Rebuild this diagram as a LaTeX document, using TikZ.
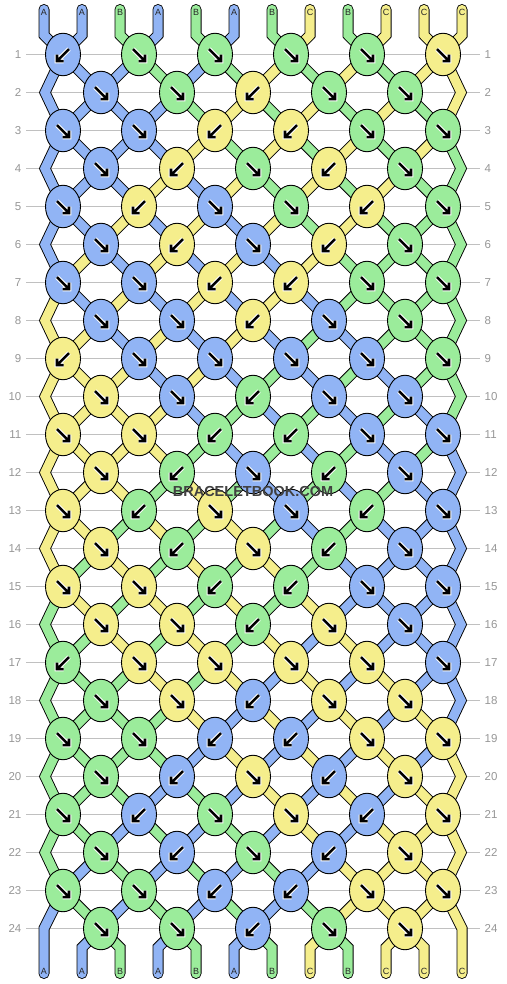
\documentclass[tikz,border=0pt]{standalone}
\usepackage{fontspec}
\setmainfont{Liberation Sans}
\usetikzlibrary{shapes.geometric}
\definecolor{cA}{RGB}{145,180,245}
\definecolor{cB}{RGB}{155,236,155}
\definecolor{cC}{RGB}{245,238,140}
\definecolor{gridgray}{RGB}{192,192,192}
\definecolor{labgray}{RGB}{150,150,150}
\pgfdeclarelayer{grid}
\pgfdeclarelayer{strands}
\pgfsetlayers{grid,strands,main}
\tikzset{
  strand/.style={draw=black, line width=0.9pt, double=#1, double distance=9.2pt},
  knot/.style={ellipse, draw=black, line width=0.9pt, fill=#1, minimum width=35pt,
    minimum height=42.5pt, inner sep=0pt, outer sep=0pt},
  arrw/.style={white, line width=4.6pt, line join=miter},
  arrk/.style={black, line width=2.6pt, line join=miter},
  kf/.style={path picture={
    \begin{scope}[shift={(path picture bounding box.center)}]
      \draw[arrw] (-6,-5.4) -- (5,5.6) (-0.5,6.6) -- (6,6.6) -- (6,0.1);
      \draw[arrk] (-6,-5.4) -- (5,5.6) (-0.5,6.6) -- (6,6.6) -- (6,0.1);
    \end{scope}}},
  kb/.style={path picture={
    \begin{scope}[shift={(path picture bounding box.center)}]
      \draw[arrw] (6,-5.4) -- (-5,5.6) (0.5,6.6) -- (-6,6.6) -- (-6,0.1);
      \draw[arrk] (6,-5.4) -- (-5,5.6) (0.5,6.6) -- (-6,6.6) -- (-6,0.1);
    \end{scope}}},
  rowlab/.style={text=labgray, inner sep=0pt, font=\fontsize{11.5}{13}\selectfont},
  strlab/.style={text=black!85, inner sep=0pt, font=\fontsize{9}{10}\selectfont},
}
\begin{document}
\begin{tikzpicture}[x=1pt,y=-1pt]
\useasboundingbox (0,0) rectangle (506,984);
% row lines and numbers
\foreach \r in {1,...,24}{
  \pgfmathsetmacro\yy{54.5+38*(\r-1)}
  \begin{pgfonlayer}{grid}
    \draw[gridgray, line width=1pt] (26,\yy) -- (480,\yy);
  \end{pgfonlayer}
  \node[rowlab, anchor=east] (rl\r) at (21.5,\yy) {\r};
  \node[rowlab, anchor=west] (rr\r) at (484.5,\yy) {\r};
}
% knots
\foreach \r/\ks in {
 1/{A/b,B/f,B/f,B/f,B/f,C/f},
 2/{A/f,B/f,C/b,B/f,B/f},
 3/{A/f,A/f,C/b,C/b,B/f,B/f},
 4/{A/f,C/b,B/f,C/b,B/f},
 5/{A/f,C/b,A/f,B/f,C/b,B/f},
 6/{A/f,C/b,A/f,C/b,B/f},
 7/{A/f,A/f,C/b,C/b,B/f,B/f},
 8/{A/f,A/f,C/b,A/f,B/f},
 9/{C/b,A/f,A/f,A/f,A/f,B/f},
 10/{C/f,A/f,B/b,A/f,A/f},
 11/{C/f,C/f,B/b,B/b,A/f,A/f},
 12/{C/f,B/b,A/f,B/b,A/f},
 13/{C/f,B/b,C/f,A/f,B/b,A/f},
 14/{C/f,B/b,C/f,B/b,A/f},
 15/{C/f,C/f,B/b,B/b,A/f,A/f},
 16/{C/f,C/f,B/b,C/f,A/f},
 17/{B/b,C/f,C/f,C/f,C/f,A/f},
 18/{B/f,C/f,A/b,C/f,C/f},
 19/{B/f,B/f,A/b,A/b,C/f,C/f},
 20/{B/f,A/b,C/f,A/b,C/f},
 21/{B/f,A/b,B/f,C/f,A/b,C/f},
 22/{B/f,A/b,B/f,A/b,C/f},
 23/{B/f,B/f,A/b,A/b,C/f,C/f},
 24/{B/f,B/f,A/b,B/f,C/f}}{
  \pgfmathsetmacro\yy{54.5+38*(\r-1)}
  \pgfmathsetmacro\xo{mod(\r,2)==1 ? 63 : 101}
  \foreach \col/\typ [count=\kj] in \ks {
    \pgfmathsetmacro\xx{\xo+76*(\kj-1)}
    \node[knot=c\col, k\typ] (k-\r-\kj) at (\xx,\yy) {};
  }
}
\begin{pgfonlayer}{strands}
% inner strand segments between rows
\foreach \r/\st in {
 1/{A,A,A,B,A,B,C,B,C,B,C,C},
 2/{A,A,A,A,B,C,B,C,B,C,B,C},
 3/{A,A,A,A,C,B,C,B,C,B,C,B},
 4/{A,A,A,C,A,C,B,C,B,C,B,B},
 5/{A,A,C,A,C,A,C,B,C,B,B,B},
 6/{A,C,A,C,A,C,A,C,B,B,B,B},
 7/{C,A,C,A,C,A,C,A,B,B,B,B},
 8/{C,C,A,C,A,C,A,B,A,B,B,B},
 9/{C,C,C,A,C,A,B,A,B,A,B,B},
 10/{C,C,C,C,A,B,A,B,A,B,A,B},
 11/{C,C,C,C,B,A,B,A,B,A,B,A},
 12/{C,C,C,B,C,B,A,B,A,B,A,A},
 13/{C,C,B,C,B,C,B,A,B,A,A,A},
 14/{C,B,C,B,C,B,C,B,A,A,A,A},
 15/{B,C,B,C,B,C,B,C,A,A,A,A},
 16/{B,B,C,B,C,B,C,A,C,A,A,A},
 17/{B,B,B,C,B,C,A,C,A,C,A,A},
 18/{B,B,B,B,C,A,C,A,C,A,C,A},
 19/{B,B,B,B,A,C,A,C,A,C,A,C},
 20/{B,B,B,A,B,A,C,A,C,A,C,C},
 21/{B,B,A,B,A,B,A,C,A,C,C,C},
 22/{B,A,B,A,B,A,B,A,C,C,C,C},
 23/{A,B,A,B,A,B,A,B,C,C,C,C}}{
  \pgfmathtruncatemacro\rn{\r+1}
  \foreach \col [count=\si] in \st {
    \ifnum\si>1 \ifnum\si<12
      \pgfmathtruncatemacro\ja{mod(\r,2)==1 ? int((\si+1)/2) : int(\si/2)}
      \pgfmathtruncatemacro\jb{mod(\rn,2)==1 ? int((\si+1)/2) : int(\si/2)}
      \draw[strand=c\col] (k-\r-\ja.center) -- (k-\rn-\jb.center);
    \fi\fi
  }
}
% edge strands
\foreach \r/\lc/\rc in {1/A/C,3/A/B,5/A/B,7/C/B,9/C/B,11/C/A,13/C/A,15/B/A,17/B/A,19/B/C,21/B/C}{
  \pgfmathtruncatemacro\rA{\r+1}
  \pgfmathtruncatemacro\rB{\r+2}
  \pgfmathsetmacro\ye{54.5+38*\r}
  \coordinate (eL\rA) at (45,\ye);
  \coordinate (eR\rA) at (461,\ye);
  \draw[strand=c\lc, line join=miter] (k-\r-1.center) -- (eL\rA) -- (k-\rB-1.center);
  \draw[strand=c\rc, line join=miter] (k-\r-6.center) -- (eR\rA) -- (k-\rB-6.center);
}
\coordinate (eL24) at (44,928.5);
\coordinate (eR24) at (462,928.5);
\coordinate (bL) at (44,973.5);
\coordinate (bR) at (462,973.5);
\draw[strand=cA, line join=miter, line cap=round] (k-23-1.center) -- (eL24) -- (bL);
\draw[strand=cC, line join=miter, line cap=round] (k-23-6.center) -- (eR24) -- (bR);
% top strands
\foreach \col [count=\si] in {A,A,B,A,B,A,B,C,B,C,C,C}{
  \pgfmathsetmacro\xx{44+38*(\si-1)}
  \pgfmathtruncatemacro\kj{int((\si+1)/2)}
  \coordinate (t\si) at (\xx,9.5);
  \coordinate (tb\si) at (\xx,35);
  \draw[strand=c\col, line join=miter, line cap=round] (t\si) -- (tb\si) -- (k-1-\kj.center);
}
% bottom strands
\foreach \col [count=\si] in {A,A,B,A,B,A,B,C,B,C,C,C}{
  \ifnum\si>1 \ifnum\si<12
    \pgfmathsetmacro\xx{44+38*(\si-1)}
    \pgfmathtruncatemacro\kj{int(\si/2)}
    \coordinate (bb\si) at (\xx,947.5);
    \coordinate (be\si) at (\xx,973.5);
    \draw[strand=c\col, line join=miter, line cap=round] (k-24-\kj.center) -- (bb\si) -- (be\si);
  \fi\fi
}
\end{pgfonlayer}
% strand letters
\foreach \col [count=\si] in {A,A,B,A,B,A,B,C,B,C,C,C}{
  \pgfmathsetmacro\xx{44+38*(\si-1)}
  \node[strlab] (lt\si) at (\xx,12.6) {\col};
  \node[strlab] (lb\si) at (\xx,971.5) {\col};
}
% watermark
\node[text=black!75, inner sep=0pt, font=\bfseries\fontsize{14.5}{16}\selectfont] (wm) at (253,492) {BRACELETBOOK.COM};
\end{tikzpicture}
\end{document}
